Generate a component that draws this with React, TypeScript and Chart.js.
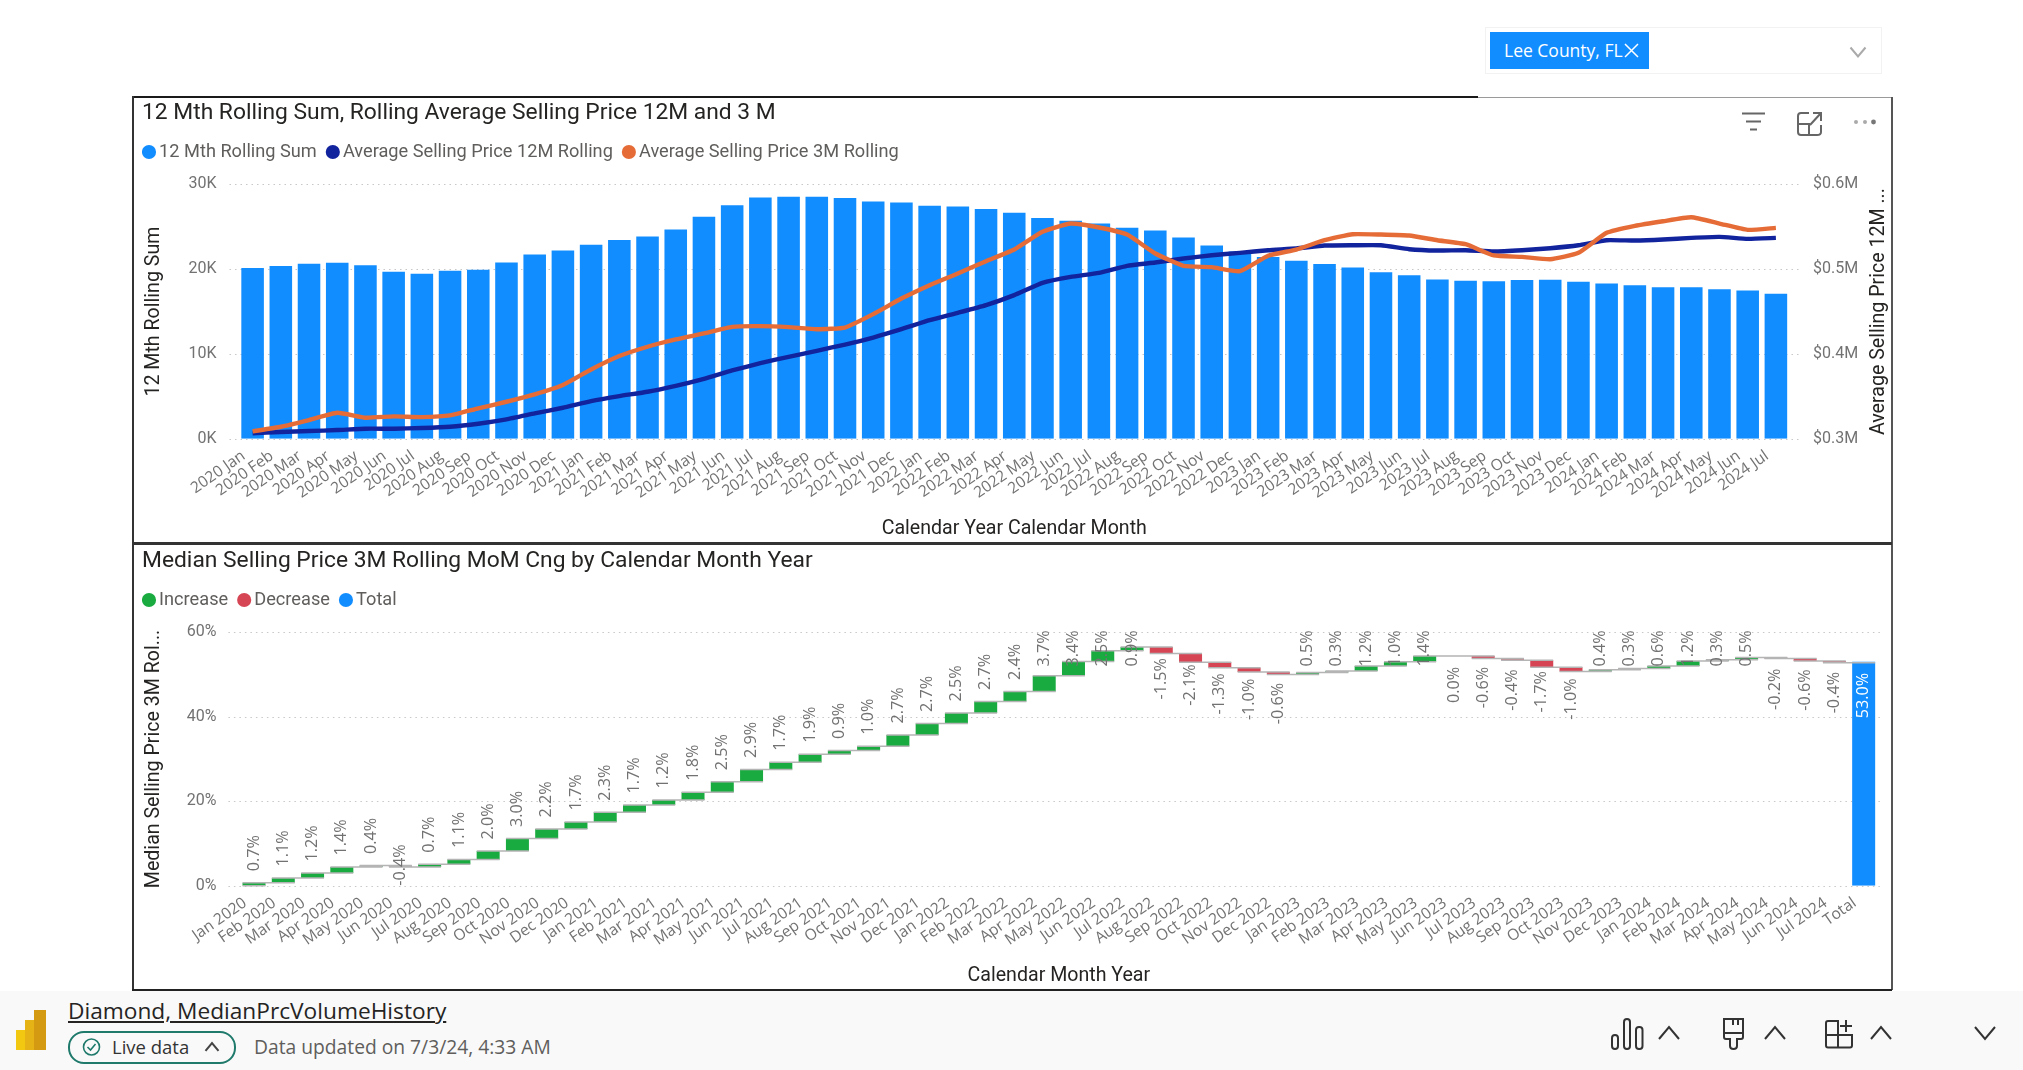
import React, { useEffect, useRef } from "react";
import { Chart, registerables } from "chart.js";

Chart.register(...registerables);

const rollingMonths = ["2020 Jan","2020 Feb","2020 Mar","2020 Apr","2020 May","2020 Jun","2020 Jul","2020 Aug","2020 Sep","2020 Oct","2020 Nov","2020 Dec","2021 Jan","2021 Feb","2021 Mar","2021 Apr","2021 May","2021 Jun","2021 Jul","2021 Aug","2021 Sep","2021 Oct","2021 Nov","2021 Dec","2022 Jan","2022 Feb","2022 Mar","2022 Apr","2022 May","2022 Jun","2022 Jul","2022 Aug","2022 Sep","2022 Oct","2022 Nov","2022 Dec","2023 Jan","2023 Feb","2023 Mar","2023 Apr","2023 May","2023 Jun","2023 Jul","2023 Aug","2023 Sep","2023 Oct","2023 Nov","2023 Dec","2024 Jan","2024 Feb","2024 Mar","2024 Apr","2024 May","2024 Jun","2024 Jul"];

const rollingSum = [20140,20380,20650,20770,20460,19700,19470,19830,19950,20800,21750,22200,22900,23440,23870,24700,26200,27560,28460,28540,28540,28390,28000,27880,27500,27400,27100,26660,26030,25720,25400,24900,24580,23750,22800,22100,21440,21000,20600,20200,19630,19280,18800,18650,18570,18730,18770,18530,18300,18100,17860,17860,17630,17500,17100];

const price12M = [0.3063,0.3079,0.309,0.3102,0.3118,0.3118,0.3126,0.3141,0.3177,0.3228,0.3298,0.3365,0.3444,0.3503,0.3554,0.3624,0.3707,0.3805,0.3891,0.3966,0.4037,0.4111,0.4194,0.4292,0.4398,0.4485,0.4576,0.4694,0.4839,0.491,0.4957,0.504,0.5079,0.5126,0.5165,0.5193,0.5224,0.5244,0.5279,0.5283,0.5283,0.5236,0.522,0.5224,0.5209,0.5224,0.5248,0.5283,0.5342,0.5338,0.535,0.537,0.5382,0.5358,0.537];

const price3M = [0.3086,0.3141,0.322,0.3306,0.3248,0.3263,0.3255,0.3275,0.3358,0.3436,0.3523,0.3633,0.3817,0.3975,0.4085,0.4171,0.4242,0.432,0.4328,0.4316,0.4292,0.4312,0.447,0.4654,0.4812,0.495,0.5095,0.5232,0.5441,0.5539,0.5492,0.5409,0.5185,0.504,0.5024,0.4977,0.5158,0.5232,0.5342,0.5413,0.5409,0.5397,0.5342,0.5295,0.5162,0.5146,0.5118,0.5193,0.5429,0.5511,0.5566,0.5613,0.5539,0.5464,0.5488];

const waterfallMonths = ["Jan 2020","Feb 2020","Mar 2020","Apr 2020","May 2020","Jun 2020","Jul 2020","Aug 2020","Sep 2020","Oct 2020","Nov 2020","Dec 2020","Jan 2021","Feb 2021","Mar 2021","Apr 2021","May 2021","Jun 2021","Jul 2021","Aug 2021","Sep 2021","Oct 2021","Nov 2021","Dec 2021","Jan 2022","Feb 2022","Mar 2022","Apr 2022","May 2022","Jun 2022","Jul 2022","Aug 2022","Sep 2022","Oct 2022","Nov 2022","Dec 2022","Jan 2023","Feb 2023","Mar 2023","Apr 2023","May 2023","Jun 2023","Jul 2023","Aug 2023","Sep 2023","Oct 2023","Nov 2023","Dec 2023","Jan 2024","Feb 2024","Mar 2024","Apr 2024","May 2024","Jun 2024","Jul 2024","Total"];

const monthlyChange = [0.7,1.1,1.2,1.4,0.4,-0.4,0.7,1.1,2.0,3.0,2.2,1.7,2.3,1.7,1.2,1.8,2.5,2.9,1.7,1.9,0.9,1.0,2.7,2.7,2.5,2.7,2.4,3.7,3.4,2.5,0.9,-1.5,-2.1,-1.3,-1.0,-0.6,0.5,0.3,1.2,1.0,1.4,0.0,-0.6,-0.4,-1.7,-1.0,0.4,0.3,0.6,1.2,0.3,0.5,-0.2,-0.6,-0.4];
const totalChange = 53.0;

const BLUE = "#118DFF", NAVY = "#12239E", ORANGE = "#E66C37", GREEN = "#1AAB40", RED = "#D64554";
const TITLE_FONT = "Roboto";
const LABEL_FONT = "'Open Sans'";
const TITLE_COLOR = "#252423";
const TICK_COLOR = "#727272";

const dottedGrid = (extendLeft: number, extendRight: number) => ({
  id: "dottedGrid",
  beforeDatasetsDraw(chart: any) {
    const { ctx, chartArea, scales } = chart;
    ctx.save();
    ctx.strokeStyle = "#c8c8c8";
    ctx.lineWidth = 1.2;
    ctx.setLineDash([1.5, 4]);
    scales.y.ticks.forEach((t: any) => {
      const y = Math.round(scales.y.getPixelForValue(t.value)) + 0.5;
      ctx.beginPath();
      ctx.moveTo(chartArea.left - extendLeft, y);
      ctx.lineTo(chartArea.right + extendRight, y);
      ctx.stroke();
    });
    ctx.restore();
  },
});

const legendPlacement = (extraHeight: number) => ({
  id: "legendPlacement",
  beforeInit(chart: any) {
    const fit = chart.legend.fit;
    chart.legend.fit = function () {
      fit.call(this);
      this.height += extraHeight;
    };
  },
  beforeDraw(chart: any) {
    chart.legend.left = -9;
  },
});

const rightAxisTitle = {
  id: "rightAxisTitle",
  afterDraw(chart: any) {
    const { ctx, chartArea } = chart;
    ctx.save();
    ctx.translate(chartArea.right + 89.5, (chartArea.top + chartArea.bottom) / 2);
    ctx.rotate(-Math.PI / 2);
    ctx.font = `19.6px ${TITLE_FONT}`;
    ctx.fillStyle = TITLE_COLOR;
    ctx.textAlign = "center";
    ctx.textBaseline = "middle";
    ctx.fillText("Average Selling Price 12M ...", 0, 0);
    ctx.restore();
  },
};

const runningTotals: number[] = [];
monthlyChange.forEach((d, i) => runningTotals.push((i ? runningTotals[i - 1] : 0) + d));

const waterfallMarks = {
  id: "waterfallMarks",
  afterDatasetsDraw(chart: any) {
    const { ctx, scales, chartArea } = chart;
    const { x, y } = scales;
    const half = x.getPixelForValue(1) - x.getPixelForValue(0);
    const w = half * 0.39;
    ctx.save();
    ctx.strokeStyle = "#b4b4b4";
    ctx.lineWidth = 1.5;
    ctx.beginPath();
    ctx.moveTo(x.getPixelForValue(0) - w, y.getPixelForValue(0));
    ctx.lineTo(x.getPixelForValue(0) + w, y.getPixelForValue(0));
    runningTotals.forEach((v, i) => {
      const py = y.getPixelForValue(v);
      ctx.moveTo(x.getPixelForValue(i) - w, py);
      ctx.lineTo(x.getPixelForValue(i + 1) + w, py);
    });
    ctx.stroke();

    ctx.font = `16.2px ${LABEL_FONT}`;
    ctx.textBaseline = "middle";
    const put = (i: number, text: string, edge: number, above: boolean, color: string) => {
      const len = ctx.measureText(text).width;
      let low = above ? edge - 11.5 : edge + 11 + len;
      low = Math.min(low, chartArea.bottom);
      low = Math.max(low, chartArea.top - 2 + len);
      ctx.save();
      ctx.translate(x.getPixelForValue(i), low);
      ctx.rotate(-Math.PI / 2);
      ctx.textAlign = "left";
      ctx.fillStyle = color;
      ctx.fillText(text, 0, 0);
      ctx.restore();
    };
    monthlyChange.forEach((d, i) => {
      const end = runningTotals[i];
      const start = end - d;
      const above = d > 0;
      const edge = y.getPixelForValue(above ? end : start);
      put(i, `${d.toFixed(1)}%`, edge, above, "#727272");
    });
    put(monthlyChange.length, `${totalChange.toFixed(1)}%`, y.getPixelForValue(totalChange), false, "#ffffff");
    ctx.restore();
  },
};

const legendOptions = {
  position: "top" as const,
  align: "start" as const,
  labels: {
    usePointStyle: true,
    pointStyle: "circle",
    boxWidth: 2,
    boxHeight: 10,
    padding: 15,
    color: "#605E5C",
    font: { family: TITLE_FONT, size: 18.2 },
    sort: (a: any, b: any) => a.datasetIndex - b.datasetIndex,
    generateLabels: (chart: any) =>
      Chart.defaults.plugins.legend.labels.generateLabels(chart).map((l: any) => ({ ...l, lineWidth: 0 })),
  },
};

const titleOptions = (text: string) => ({
  display: true,
  text,
  align: "start" as const,
  color: TITLE_COLOR,
  padding: { top: 2.5, bottom: 1 },
  font: { family: TITLE_FONT, size: 22.8, weight: "normal" as const },
});

const xAxis = (title: string) => ({
  type: "category" as const,
  offset: true,
  grid: { display: false },
  border: { display: false },
  afterFit: (s: any) => { s.height = 103.3; },
  ticks: {
    autoSkip: false,
    minRotation: 35,
    maxRotation: 35,
    padding: 0,
    labelOffset: -9,
    color: TICK_COLOR,
    font: { family: LABEL_FONT, size: 15.6 },
  },
  title: {
    display: true,
    text: title,
    color: TITLE_COLOR,
    padding: { top: 0, bottom: 1 },
    font: { family: TITLE_FONT, size: 19.6 },
  },
});

const yTicks = (padding: number, callback: (v: number) => string) => ({
  padding,
  color: TICK_COLOR,
  font: { family: TITLE_FONT, size: 16 },
  callback,
});

function RollingChart() {
  const ref = useRef<HTMLCanvasElement>(null);
  useEffect(() => {
    const chart = new Chart(ref.current!, {
      type: "bar",
      data: {
        labels: rollingMonths,
        datasets: [
          { type: "bar", label: "12 Mth Rolling Sum", data: rollingSum, backgroundColor: BLUE, yAxisID: "y", order: 3, barPercentage: 0.8, categoryPercentage: 1 },
          { type: "line", label: "Average Selling Price 12M Rolling", data: price12M, borderColor: NAVY, backgroundColor: NAVY, borderWidth: 4.4, pointRadius: 0, tension: 0.15, yAxisID: "y1", order: 2 },
          { type: "line", label: "Average Selling Price 3M Rolling", data: price3M, borderColor: ORANGE, backgroundColor: ORANGE, borderWidth: 4.4, pointRadius: 0, tension: 0.15, yAxisID: "y1", order: 1 },
        ],
      } as any,
      options: {
        responsive: false,
        animation: false,
        devicePixelRatio: 1,
        layout: { padding: 0 },
        plugins: {
          title: titleOptions("12 Mth Rolling Sum, Rolling Average Selling Price 12M and 3 M"),
          legend: legendOptions,
          tooltip: { enabled: false },
        },
        scales: {
          x: xAxis("Calendar Year Calendar Month"),
          y: {
            position: "left",
            min: 0,
            max: 30000,
            grid: { display: false, drawTicks: false },
            border: { display: false },
            afterFit: (s: any) => { s.width = 96.5; },
            ticks: { ...yTicks(22, (v) => `${v / 1000}K`), stepSize: 10000 },
            title: { display: true, text: "12 Mth Rolling Sum", color: TITLE_COLOR, padding: { top: 0, bottom: 0 }, font: { family: TITLE_FONT, size: 19.6 } },
          },
          y1: {
            position: "right",
            min: 0.3,
            max: 0.6,
            grid: { display: false, drawTicks: false },
            border: { display: false },
            afterFit: (s: any) => { s.width = 100; },
            ticks: { ...yTicks(23, (v) => `$${v.toFixed(1)}M`), stepSize: 0.1 },
          },
        },
      } as any,
      plugins: [dottedGrid(9, 9), legendPlacement(13.4), rightAxisTitle],
    });
    return () => chart.destroy();
  }, []);
  return <canvas ref={ref} width={1748} height={445} style={{ position: "absolute", left: 142, top: 97, width: 1748, height: 445 }} />;
}

function WaterfallChart() {
  const ref = useRef<HTMLCanvasElement>(null);
  useEffect(() => {
    const last = monthlyChange.length;
    const increase = monthlyChange.map((d, i) => (d > 0 ? [runningTotals[i] - d, runningTotals[i]] : null));
    const decrease = monthlyChange.map((d, i) => (d <= 0 ? [runningTotals[i] - d, runningTotals[i]] : null));
    const total: any[] = monthlyChange.map(() => null);
    total[last] = [0, totalChange];
    const shared = { grouped: false, barPercentage: 0.786, categoryPercentage: 1 };
    const chart = new Chart(ref.current!, {
      type: "bar",
      data: {
        labels: waterfallMonths,
        datasets: [
          { label: "Increase", data: increase, backgroundColor: GREEN, ...shared },
          { label: "Decrease", data: decrease, backgroundColor: RED, ...shared },
          { label: "Total", data: total, backgroundColor: BLUE, ...shared },
        ],
      } as any,
      options: {
        responsive: false,
        animation: false,
        devicePixelRatio: 1,
        layout: { padding: { right: 11.7 } },
        plugins: {
          title: titleOptions("Median Selling Price 3M Rolling MoM Cng by Calendar Month Year"),
          legend: legendOptions,
          tooltip: { enabled: false },
        },
        scales: {
          x: xAxis("Calendar Month Year"),
          y: {
            min: 0,
            max: 60,
            grid: { display: false, drawTicks: false },
            border: { display: false },
            afterFit: (s: any) => { s.width = 97.4; },
            ticks: { ...yTicks(23, (v) => `${v}%`), stepSize: 20 },
            title: { display: true, text: "Median Selling Price 3M Rol...", color: TITLE_COLOR, padding: { top: 0, bottom: 0 }, font: { family: TITLE_FONT, size: 19.6 } },
          },
        },
      } as any,
      plugins: [dottedGrid(11, 3.5), legendPlacement(13.2), waterfallMarks],
    });
    return () => chart.destroy();
  }, []);
  return <canvas ref={ref} width={1748} height={444} style={{ position: "absolute", left: 142, top: 545, width: 1748, height: 444 }} />;
}

const box = (left: number, top: number, width: number, height: number, background: string) => (
  <div style={{ position: "absolute", left, top, width, height, background }} />
);

const text = (left: number, top: number, size: number, color: string, content: string, extra: any = {}) => (
  <div style={{ position: "absolute", left, top, fontSize: size, lineHeight: `${Math.round(size * 1.3)}px`, color, whiteSpace: "nowrap", fontFamily: "'Open Sans'", ...extra }}>{content}</div>
);

const chevron = (cx: number, cy: number, up: boolean, half: number, color: string) => {
  const d = half * 0.6;
  const s = up ? -1 : 1;
  return (
    <svg style={{ position: "absolute", left: 0, top: 0, overflow: "visible" }} width={1} height={1}>
      <polyline points={`${cx - half},${cy - s * d} ${cx},${cy + s * d} ${cx + half},${cy - s * d}`} fill="none" stroke={color} strokeWidth={2} />
    </svg>
  );
};

export default function App() {
  return (
    <div style={{ position: "absolute", left: 0, top: 0, width: 2023, height: 1070, overflow: "hidden", background: "#ffffff" }}>
      {/* slicer */}
      <div style={{ position: "absolute", left: 1485, top: 27, width: 395, height: 45, border: "1px solid #f2f2f2" }} />
      {box(1490, 32, 159, 37, BLUE)}
      {text(1504, 39, 17.5, "#ffffff", "Lee County, FL")}
      <svg style={{ position: "absolute", left: 1625, top: 44, overflow: "visible" }} width={14} height={14}>
        <path d="M0 0 L13 13 M13 0 L0 13" stroke="#fff" strokeWidth={1.5} />
      </svg>
      {chevron(1858, 52, false, 7.5, "#aaaaaa")}

      {/* panel frame */}
      {box(132, 96, 1346, 2, "#1a1a1a")}
      {box(1478, 97, 414, 1, "#9a9a9a")}
      {box(132, 96, 1.5, 894, "#333333")}
      {box(1891, 97, 1.5, 893, "#555555")}
      {box(132, 542, 1760, 3, "#333333")}
      {box(132, 989, 1760, 1.5, "#222222")}

      <RollingChart />
      <WaterfallChart />

      {/* visual header icons */}
      <svg style={{ position: "absolute", left: 0, top: 0, overflow: "visible" }} width={1} height={1}>
        <g stroke="#666" strokeWidth={2} fill="none">
          <path d="M1742 113.5 H1765 M1746 121.5 H1761 M1750 129.5 H1757" />
          <path d="M1809 113 H1801 Q1798 113 1798 116 V132 Q1798 135 1801 135 H1817 Q1821 135 1821 132 V125 M1798 124 H1809 V135 M1810 125 L1821 113 M1813 113 H1821 V121" />
        </g>
        <circle cx={1856} cy={122} r={2} fill="#aaa" />
        <circle cx={1865} cy={122} r={2} fill="#aaa" />
        <circle cx={1873.5} cy={122} r={2.4} fill="#777" />
      </svg>

      {/* footer */}
      {box(0, 990.5, 2023, 80, "#f9f9f9")}
      {box(16, 1030, 13, 20, "#f2c811")}
      {box(24.5, 1020, 13, 30, "#e5b316")}
      {box(33.5, 1010, 12.5, 40, "#d49a12")}
      {text(68, 996, 22.7, "#252423", "Diamond, MedianPrcVolumeHistory", { textDecoration: "underline" })}
      <div style={{ position: "absolute", left: 68, top: 1031, width: 164, height: 29, border: "2px solid #1f7a6c", borderRadius: 16 }} />
      <svg style={{ position: "absolute", left: 0, top: 0, overflow: "visible" }} width={1} height={1}>
        <circle cx={91.5} cy={1047} r={8} fill="none" stroke="#1f7a6c" strokeWidth={1.6} />
        <path d="M87.5 1047 L90.5 1050 L95.5 1044" fill="none" stroke="#1f7a6c" strokeWidth={1.6} />
      </svg>
      {text(112, 1035, 18.5, "#333333", "Live data")}
      {chevron(212, 1047, true, 6.5, "#444")}
      {text(254, 1034, 19.25, "#605E5C", "Data updated on 7/3/24, 4:33 AM")}

      <svg style={{ position: "absolute", left: 0, top: 0, overflow: "visible" }} width={1} height={1}>
        <g stroke="#333" strokeWidth={2} fill="none">
          <rect x={1612} y={1035} width={6} height={14} rx={3} />
          <rect x={1624} y={1019} width={6} height={30} rx={3} />
          <rect x={1636} y={1027} width={6.5} height={22} rx={3} />
          <path d="M1724 1019 H1743 V1037 Q1743 1039 1741 1039 H1737 V1046 Q1737 1049 1733.5 1049 Q1730 1049 1730 1046 V1039 H1726 Q1724 1039 1724 1037 Z M1724 1033 H1743 M1733 1019 V1025 M1738 1019 V1025" />
          <path d="M1826 1023 Q1826 1021 1828 1021 H1838 V1047.5 H1828 Q1826 1047.5 1826 1045.5 Z M1826 1035 H1852 M1838 1035 H1852 V1045.5 Q1852 1047.5 1850 1047.5 H1838 M1846 1020 V1032 M1840 1026 H1852" />
        </g>
      </svg>
      {chevron(1669, 1033, true, 10, "#333")}
      {chevron(1775, 1033, true, 10, "#333")}
      {chevron(1881, 1033, true, 10, "#333")}
      {chevron(1985, 1033, false, 10, "#333")}
    </div>
  );
}
